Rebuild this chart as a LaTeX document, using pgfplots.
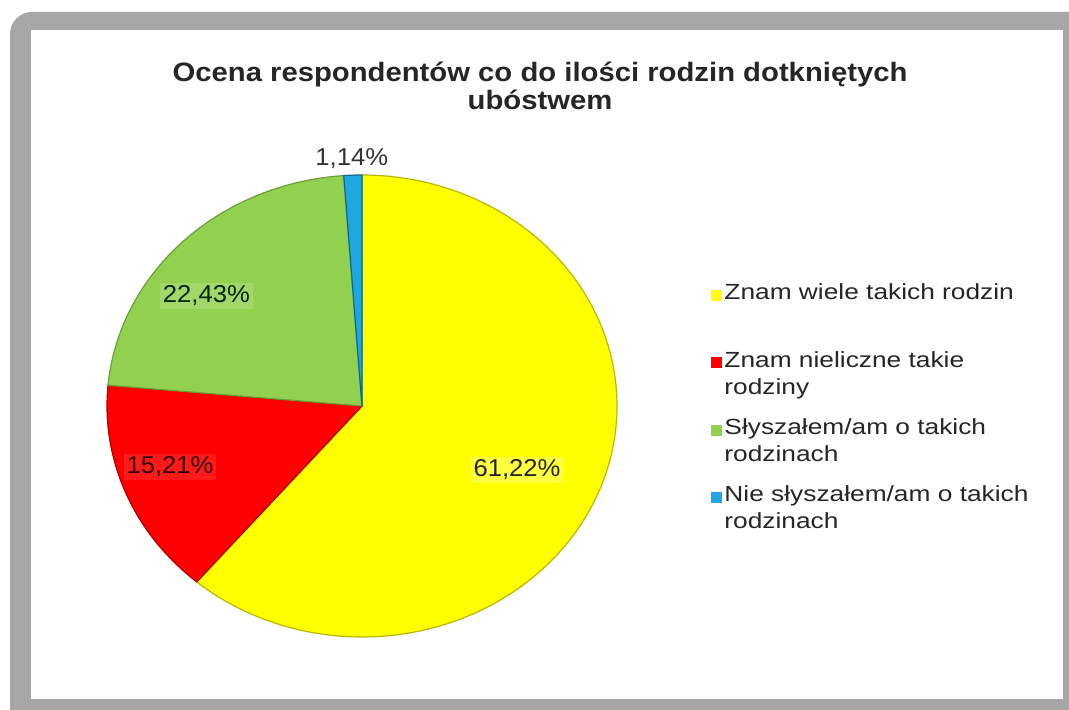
\documentclass[border=0pt]{standalone}
\usepackage{fontspec}
\setmainfont{Liberation Sans}
\newfontfamily\titlefont[FakeStretch=1.1]{Liberation Sans}
\newfontfamily\legfont[FakeStretch=1.2]{Liberation Sans}
\newfontfamily\labfont[FakeStretch=1.05]{Liberation Sans}
\usepackage{pgfplots}
\pgfplotsset{compat=1.18}

\definecolor{frameGray}{HTML}{A6A6A6}
\definecolor{cY}{HTML}{FFFF00}
\definecolor{cYd}{HTML}{B8B800}
\definecolor{cR}{HTML}{FF0000}
\definecolor{cRd}{HTML}{B00000}
\definecolor{cG}{HTML}{92D050}
\definecolor{cGd}{HTML}{6E9E3A}
\definecolor{cB}{HTML}{1FA8E0}
\definecolor{cBd}{HTML}{0A6890}

% slice: start (cumulative %), value (%), style ; clockwise from 12 o'clock
\newcommand{\pieslice}[3]{%
  \addplot[#3, line width=1.2bp, domain={90-3.6*(#1+#2)}:{90-3.6*#1}, samples=150, variable=\t]
    ({cos(\t)},{sin(\t)}) -- (0,0) -- cycle;}

\begin{document}
\begin{tikzpicture}[x=1bp,y=1bp]
\useasboundingbox (0,0) rectangle (1069,710);
\clip (0,0) rectangle (1069,710);
\fill[white] (0,0) rectangle (1069,710);
\fill[frameGray, rounded corners=22bp] (10,-40) rectangle (1110,698);
\fill[white] (30,10) rectangle (1063,680);
\draw[gray!70, line width=1bp] (30,10) rectangle (1063,680);

\node[align=center, font=\titlefont\bfseries\fontsize{26.7}{28}\selectfont, text=black!85]
  at (540,624) {Ocena respondentów co do ilości rodzin dotkniętych\\ubóstwem};

\begin{axis}[
  at={(362bp,304bp)}, anchor=center,
  scale only axis, width=510bp, height=462bp,
  xmin=-1, xmax=1, ymin=-1, ymax=1,
  hide axis, clip=false,
  area legend,
  legend image code/.code={\fill[#1, draw=none] (0bp,5bp) rectangle (11bp,16bp);},
  legend cell align=left,
  legend style={at={(1.179,0.773)}, anchor=north west, draw=none, fill=none,
    font=\legfont\fontsize{22}{27}\selectfont, row sep=19bp,
    nodes={align=left, text=black!85}},
]
\pieslice{0}{61.22}{fill=cY, draw=cYd}
\addlegendentry{Znam wiele takich rodzin\\\mbox{}}
\pieslice{61.22}{15.21}{fill=cR, draw=cRd}
\addlegendentry{Znam nieliczne takie\\rodziny}
\pieslice{76.43}{22.43}{fill=cG, draw=cGd}
\addlegendentry{Słyszałem/am o takich\\rodzinach}
\pieslice{98.86}{1.14}{fill=cB, draw=cBd}
\addlegendentry{Nie słyszałem/am o takich\\rodzinach}

\node[font=\labfont\fontsize{24.5}{24.5}\selectfont, fill=white, inner sep=3bp, text=black!80] at (-0.04,1.07) {1,14\%};
\node[font=\labfont\fontsize{24.5}{24.5}\selectfont, fill=white, fill opacity=0.15, text opacity=1, inner sep=3bp, text=black!85!green] at (-0.61,0.476) {22,43\%};
\node[font=\labfont\fontsize{24.5}{24.5}\selectfont, fill=white, fill opacity=0.1, text opacity=1, inner sep=3bp, text=black!80!red] at (-0.753,-0.264) {15,21\%};
\node[font=\labfont\fontsize{24.5}{24.5}\selectfont, fill=white, fill opacity=0.25, text opacity=1, inner sep=3bp, text=black!85] at (0.608,-0.277) {61,22\%};
\end{axis}
\end{tikzpicture}
\end{document}
